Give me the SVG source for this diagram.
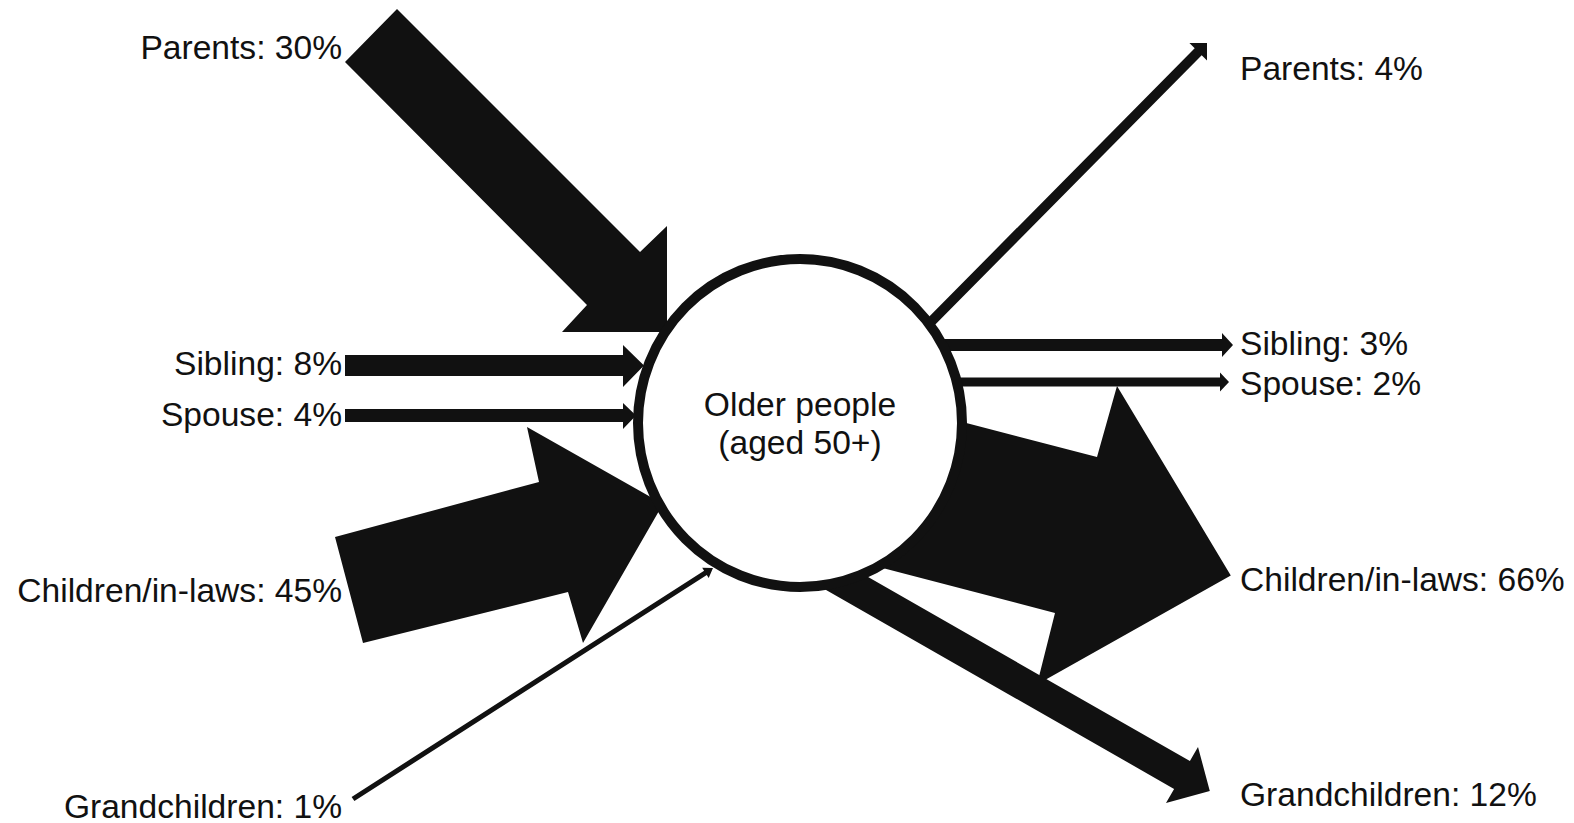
<svg xmlns="http://www.w3.org/2000/svg" width="1574" height="823" viewBox="0 0 1574 823">
  <style>
    .arr { fill: #111; stroke: none; }
    .lbl { font-family: "Liberation Sans", Arial, Helvetica, sans-serif; font-size: 33.6px; fill: #111; }
    .l { text-anchor: end; }
    .r { text-anchor: start; }
    .c { text-anchor: middle; }
  </style>
  <rect width="1574" height="823" fill="#fff"/>
  <g id="connectors">
    <polygon id="in-parents" class="arr" points="397,9 640,252 667,226 667,332 562,332 587,305 345,62"/>
    <polygon id="in-sibling" class="arr" points="345,355 623,355 623,345 644,365.5 623,387 623,376 345,376"/>
    <polygon id="in-spouse" class="arr" points="345,409 623,409 623,403 636,415.5 623,429 623,422 345,422"/>
    <polygon id="in-children" class="arr" points="335,537 539,482 527,427 663,504 583,643 568,592 363,643"/>
    <polygon id="in-grandchildren" class="arr" points="351.6,796.9 704.1,570.8 702.2,567.8 713,568 708.7,577.9 706.8,575 354.4,801.1"/>
    <polygon id="out-parents" class="arr" points="911.5,334.5 1194.7,48.3 1189.4,43 1207,43 1207,60.6 1201.7,55.3 918.5,341.5"/>
    <polygon id="out-sibling" class="arr" points="900,339 1222,339 1222,333 1233,345 1222,357 1222,351 900,351"/>
    <polygon id="out-spouse" class="arr" points="900,377.5 1220,377.5 1220,372.5 1229,382 1220,391.5 1220,386.5 900,386.5"/>
    <polygon id="out-children" class="arr" points="835.1,388.7 1097,457 1117,386 1230.8,575.4 1037,684.5 1055,613 794.3,545.1"/>
    <polygon id="out-grandchildren" class="arr" points="827.9,554.1 1189.9,761.1 1198,747 1209.8,790.9 1166,803 1174.1,788.9 812.1,581.9"/>
  </g>
  <g id="node-older-people">
    <ellipse cx="800" cy="423" rx="162" ry="164" fill="#fff" stroke="#111" stroke-width="10"/>
    <text class="lbl c" x="800" y="416">Older people</text>
    <text class="lbl c" x="800" y="454">(aged 50+)</text>
  </g>
  <g id="node-parents-in"><text class="lbl l" x="342" y="59">Parents: 30%</text></g>
  <g id="node-sibling-in"><text class="lbl l" x="342" y="375">Sibling: 8%</text></g>
  <g id="node-spouse-in"><text class="lbl l" x="342" y="426">Spouse: 4%</text></g>
  <g id="node-children-in"><text class="lbl l" x="342" y="602">Children/in-laws: 45%</text></g>
  <g id="node-grandchildren-in"><text class="lbl l" x="342" y="818">Grandchildren: 1%</text></g>
  <g id="node-parents-out"><text class="lbl r" x="1240" y="80">Parents: 4%</text></g>
  <g id="node-sibling-out"><text class="lbl r" x="1240" y="355">Sibling: 3%</text></g>
  <g id="node-spouse-out"><text class="lbl r" x="1240" y="395">Spouse: 2%</text></g>
  <g id="node-children-out"><text class="lbl r" x="1240" y="591">Children/in-laws: 66%</text></g>
  <g id="node-grandchildren-out"><text class="lbl r" x="1240" y="806">Grandchildren: 12%</text></g>
</svg>
